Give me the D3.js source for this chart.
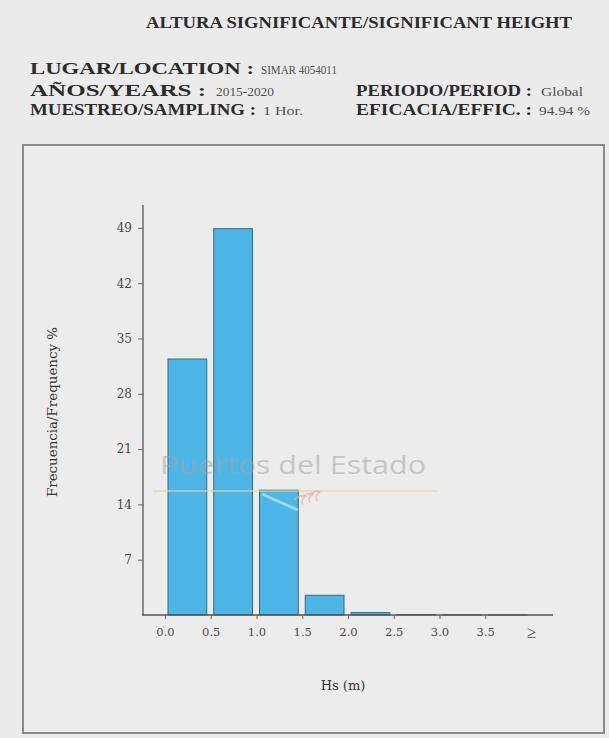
<!DOCTYPE html>
<html><head><meta charset="utf-8">
<script src="https://cdn.jsdelivr.net/npm/d3@7"></script>
<style>
html,body{margin:0;padding:0;background:#ebebeb;}
svg{display:block;}
</style></head>
<body>
<script>
const binStarts = [0.0, 0.5, 1.0, 1.5, 2.0, 2.5, 3.0, 3.5];
const frequencies = [32.4, 48.9, 15.8, 2.5, 0.3, 0.05, 0.03, 0.02];
const xTickValues = [0.0, 0.5, 1.0, 1.5, 2.0, 2.5, 3.0, 3.5, 4.0];
const xTickLabels = ["0.0", "0.5", "1.0", "1.5", "2.0", "2.5", "3.0", "3.5", "\u2265"];
const yTickValues = [7, 14, 21, 28, 35, 42, 49];
const titleText = "ALTURA SIGNIFICANTE/SIGNIFICANT HEIGHT";
const infoLabels = ["LUGAR/LOCATION :", "AÑOS/YEARS :", "MUESTREO/SAMPLING :", "PERIODO/PERIOD :", "EFICACIA/EFFIC. :"];
const infoValues = ["SIMAR 4054011", "2015-2020", "1 Hor.", "Global", "94.94 %"];

const W = 609, H = 738;
const svg = d3.select("body").append("svg").attr("width", W).attr("height", H);
svg.append("rect").attr("width", W).attr("height", H).attr("fill", "#ebebeb");
const serif = "'DejaVu Serif', 'Liberation Serif', serif";
const lserif = "'Liberation Serif', serif";

svg.append("text").attr("x", 146).attr("y", 28)
  .attr("font-family", lserif).attr("font-weight", "bold").attr("font-size", 16)
  .attr("textLength", 426).attr("lengthAdjust", "spacingAndGlyphs")
  .attr("fill", "#2b2b2b").text(titleText);

// header layout: [x label, label width, x value, value width, baseline]
const infoPos = [
  [30, 224, 261, 76, 74],
  [30, 176, 216, 58, 96],
  [30, 226, 263, 40, 115],
  [356, 176, 541, 42, 96],
  [356, 176, 539, 51, 115]
];
infoLabels.forEach((lab, i) => {
  const p = infoPos[i];
  svg.append("text").attr("x", p[0]).attr("y", p[4])
    .attr("font-family", lserif).attr("font-weight", "bold").attr("font-size", 17)
    .attr("textLength", p[1]).attr("lengthAdjust", "spacingAndGlyphs")
    .attr("fill", "#2b2b2b").text(lab);
  svg.append("text").attr("x", p[2]).attr("y", p[4])
    .attr("font-family", lserif).attr("font-size", 12)
    .attr("textLength", p[3]).attr("lengthAdjust", "spacingAndGlyphs")
    .attr("fill", "#505050").text(infoValues[i]);
});

// frame
svg.append("rect").attr("x", 23).attr("y", 145).attr("width", 581).attr("height", 588)
  .attr("fill", "#ececec").attr("stroke", "#8a8a8a").attr("stroke-width", 2);

const x = d3.scaleLinear().domain([0, 4]).range([165, 531]);
const y = d3.scaleLinear().domain([0, 51.9]).range([615, 205]);

// bars
svg.append("g").selectAll("rect").data(frequencies).join("rect")
  .attr("x", (d, i) => x(binStarts[i]) + 3)
  .attr("width", (d, i) => x(binStarts[i] + 0.5) - x(binStarts[i]) - 7)
  .attr("y", d => y(d))
  .attr("height", d => y(0) - y(d))
  .attr("fill", "#4cb7e7").attr("stroke", "#3d6678").attr("stroke-width", 1);

// watermark (drawn over bars, semi-transparent)
const wm = svg.append("g");
wm.append("line").attr("x1", 153).attr("x2", 437).attr("y1", 491).attr("y2", 491)
  .attr("stroke", "#e8d49a").attr("stroke-width", 1.5).attr("opacity", 0.75);
wm.append("text").attr("x", 160).attr("y", 474)
  .attr("font-family", "'Open Sans', sans-serif").attr("font-size", 26)
  .attr("textLength", 266).attr("lengthAdjust", "spacingAndGlyphs")
  .attr("fill", "#a8a0a2").attr("opacity", 0.5).text("Puertos del Estado");
wm.append("path").attr("d", "M262,494 L298,510").attr("stroke", "#d8eef6").attr("stroke-width", 3).attr("opacity", 0.6);
[0, 7, 14].forEach(o => {
  wm.append("path").attr("d", `M${294+o},${500-o*0.3} q6,-6 12,-4 q-6,4 -3,9`)
    .attr("fill", "none").attr("stroke", "#f2a5ae").attr("stroke-width", 1.3).attr("opacity", 0.75);
});

// y axis
const yAxis = d3.axisLeft(y).tickValues(yTickValues).tickSize(5).tickPadding(6).tickFormat(d3.format("d"));
const gy = svg.append("g").attr("transform", "translate(143,0)").call(yAxis);
gy.select(".domain").attr("d", `M0,${y(0)}V205`).attr("stroke", "#555").attr("stroke-width", 1.3);
gy.selectAll(".tick line").attr("stroke", "#666");
gy.selectAll(".tick text").attr("font-family", serif).attr("font-size", 12).attr("fill", "#4a4a4a");

// x axis
const xAxis = d3.axisBottom(x).tickValues(xTickValues).tickSize(4).tickPadding(9)
  .tickFormat((d, i) => xTickLabels[i]);
const gx = svg.append("g").attr("transform", `translate(0,${y(0)})`).call(xAxis);
gx.select(".domain").attr("d", "M142,0H553").attr("stroke", "#555").attr("stroke-width", 1.3);
gx.selectAll(".tick line").attr("stroke", "#666").attr("opacity", (d, i) => i === 8 ? 0 : 1);
gx.selectAll(".tick text").attr("fill", "#4a4a4a")
  .attr("font-family", (d, i) => i === 8 ? lserif : serif)
  .attr("font-size", (d, i) => i === 8 ? 17 : 11.5)
  .attr("dy", (d, i) => i === 8 ? "0.6em" : "0.71em");

svg.append("text").attr("x", 343).attr("y", 690).attr("text-anchor", "middle")
  .attr("font-family", serif).attr("font-size", 13).attr("fill", "#333").text("Hs (m)");

svg.append("text").attr("transform", "translate(57,412) rotate(-90)").attr("text-anchor", "middle")
  .attr("font-family", serif).attr("font-size", 13).attr("textLength", 170).attr("lengthAdjust", "spacingAndGlyphs")
  .attr("fill", "#333").text("Frecuencia/Frequency %");
</script>
</body></html>
